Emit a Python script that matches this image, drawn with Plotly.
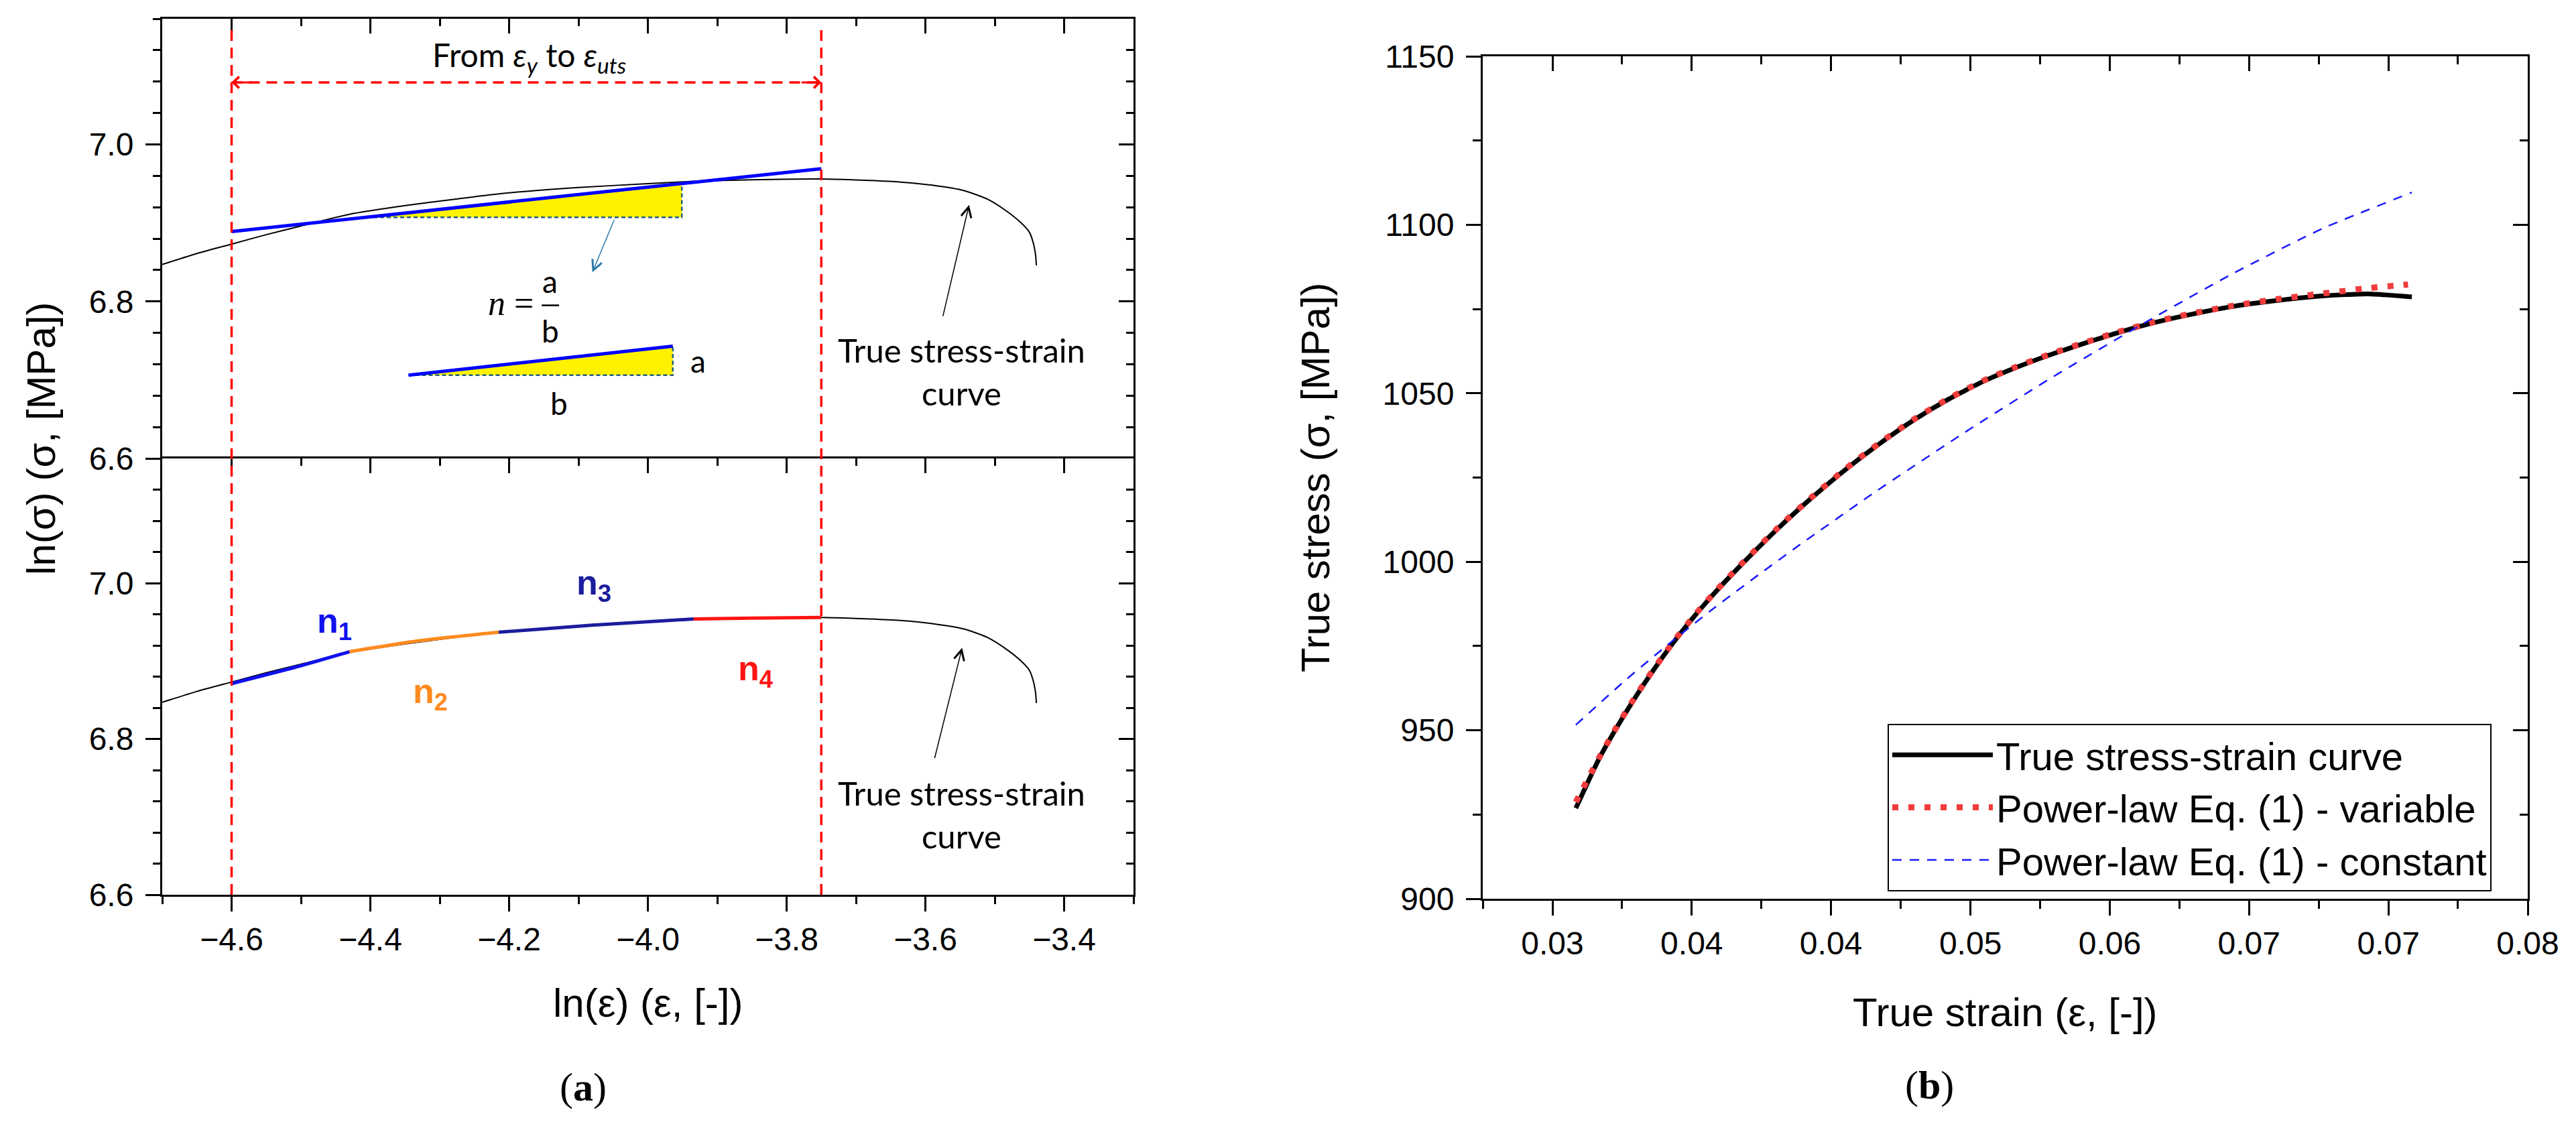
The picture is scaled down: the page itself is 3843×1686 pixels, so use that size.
import plotly.graph_objects as go

# ---------------- panel (a): ln(sigma) vs ln(eps) ----------------
ln_eps = [-4.70, -4.65, -4.60, -4.55, -4.50, -4.43, -4.35, -4.28, -4.215, -4.10, -4.00, -3.934,
          -3.85, -3.75, -3.68, -3.636, -3.59, -3.544, -3.51, -3.483, -3.462, -3.450, -3.444, -3.441, -3.440]
ln_sig = [6.847, 6.861, 6.873, 6.885, 6.896, 6.911, 6.922, 6.930, 6.937, 6.945, 6.950, 6.953,
          6.955, 6.956, 6.954, 6.952, 6.948, 6.941, 6.930, 6.915, 6.900, 6.888, 6.873, 6.858, 6.846]

# single fitted line (top), from eps_y to eps_uts
fit_x = [-4.60, -3.75]
fit_y = [6.889, 6.969]

# slope triangle on the fitted line + small a/b sketch
tri_x = [-4.415, -3.951, -3.951, -4.415]
tri_y = [6.907, 6.907, 6.950, 6.907]
small_x = [-4.345, -3.964, -3.964, -4.345]
small_y = [6.706, 6.706, 6.743, 6.706]

# four local exponents (bottom)
seg_names = ["n<sub>1</sub>", "n<sub>2</sub>", "n<sub>3</sub>", "n<sub>4</sub>"]
seg_colors = ["#1010ee", "#ff8a1e", "#1c1c9c", "#ff1414"]
seg_x = [[-4.60, -4.50, -4.43], [-4.43, -4.33, -4.215], [-4.215, -4.08, -3.934], [-3.934, -3.85, -3.75]]
seg_y = [[6.871, 6.894, 6.912], [6.912, 6.926, 6.937], [6.937, 6.946, 6.954], [6.954, 6.955, 6.956]]
seg_lab_x = [-4.452, -4.314, -4.078, -3.844]
seg_lab_y = [6.948, 6.858, 6.997, 6.887]

eps_y_ln = -4.60
eps_uts_ln = -3.75

# ---------------- panel (b): true stress vs true strain ----------------
strain = [0.0299, 0.0311, 0.0320, 0.0328, 0.0337, 0.0350, 0.0361, 0.0372, 0.0384, 0.0405, 0.0423, 0.0441,
          0.0459, 0.0477, 0.0495, 0.0513, 0.0531, 0.0549, 0.0567, 0.0585, 0.0603, 0.0621, 0.0645, 0.0669,
          0.0692, 0.0716, 0.0739]
stress = [926.9, 941.3, 950.3, 957.7, 965.5, 975.8, 983.6, 990.7, 997.9, 1009.7, 1018.9, 1027.4,
          1035.1, 1042.1, 1048.2, 1053.4, 1057.7, 1061.5, 1064.9, 1068.1, 1070.9, 1073.2, 1075.8, 1077.6,
          1078.9, 1079.5, 1078.6]

var_strain = [0.0299, 0.0311, 0.0320, 0.0328, 0.0337, 0.0350, 0.0361, 0.0372, 0.0384, 0.0405, 0.0423, 0.0441,
              0.0459, 0.0477, 0.0495, 0.0513, 0.0531, 0.0549, 0.0567, 0.0585, 0.0603, 0.0621, 0.0645, 0.0669,
              0.0692, 0.0716, 0.0737]
var_stress = [928.7, 941.6, 950.5, 957.9, 965.7, 976.0, 983.8, 990.9, 998.1, 1009.9, 1019.1, 1027.6,
              1035.3, 1042.3, 1048.4, 1053.6, 1057.9, 1061.7, 1065.1, 1068.3, 1071.1, 1073.4, 1076.0, 1078.0,
              1079.6, 1081.2, 1082.3]

const_strain = [0.0299, 0.0325, 0.0347, 0.0370, 0.0396, 0.0417, 0.0457, 0.0504, 0.0549, 0.0598, 0.0645, 0.0692, 0.0739]
const_stress = [951.6, 964.8, 975.2, 985.5, 996.5, 1005.1, 1020.9, 1038.5, 1054.5, 1070.8, 1085.6, 1098.9, 1109.6]

strain_ticks = [0.02867, 0.03600, 0.04333, 0.05067, 0.05800, 0.06533, 0.07267, 0.08000]
strain_labels = ["0.03", "0.04", "0.04", "0.05", "0.06", "0.07", "0.07", "0.08"]
strain_minor = [0.02500, 0.03233, 0.03967, 0.04700, 0.05433, 0.06167, 0.06900, 0.07633]

legend_names = ["True stress-strain curve", "Power-law Eq. (1) - variable", "Power-law Eq. (1) - constant"]

W, H = 3843, 1686
OFF = 8  # page body margin pushes the figure by this much

def px(x):
    return (x - OFF) / W

def py(y):
    return 1 - (y - OFF) / H

SANS = "Liberation Sans, Arial, sans-serif"
NOTE = "Lato, Liberation Sans, sans-serif"
TICKF = dict(family=SANS, size=48, color="black")

fig = go.Figure()

# --- top panel (x2, y2)
fig.add_trace(go.Scatter(x=ln_eps, y=ln_sig, xaxis="x2", yaxis="y2", mode="lines",
                         line=dict(color="black", width=2, shape="spline", smoothing=0.6), showlegend=False))
for tx, ty in [(tri_x, tri_y), (small_x, small_y)]:
    fig.add_trace(go.Scatter(x=tx, y=ty, xaxis="x2", yaxis="y2", mode="lines", fill="toself",
                             fillcolor="#fff200", line=dict(width=0), showlegend=False))
    fig.add_trace(go.Scatter(x=tx[:3], y=ty[:3], xaxis="x2", yaxis="y2", mode="lines",
                             line=dict(color="#1f5f80", width=2.5, dash="6px,4px"), showlegend=False))
fig.add_trace(go.Scatter(x=fit_x, y=fit_y, xaxis="x2", yaxis="y2", mode="lines",
                         line=dict(color="#0000ff", width=5), showlegend=False))
fig.add_trace(go.Scatter(x=[small_x[0], small_x[2]], y=[small_y[0], small_y[2]], xaxis="x2", yaxis="y2",
                         mode="lines", line=dict(color="#0000ff", width=5), showlegend=False))

# --- bottom panel (x, y)
fig.add_trace(go.Scatter(x=ln_eps, y=ln_sig, xaxis="x", yaxis="y", mode="lines",
                         line=dict(color="black", width=2, shape="spline", smoothing=0.6), showlegend=False))
for sx, sy, c in zip(seg_x, seg_y, seg_colors):
    fig.add_trace(go.Scatter(x=sx, y=sy, xaxis="x", yaxis="y", mode="lines",
                             line=dict(color=c, width=5, shape="spline", smoothing=0.6), showlegend=False))

# --- panel (b) (x4, y5)
fig.add_trace(go.Scatter(x=strain, y=stress, xaxis="x4", yaxis="y5", mode="lines", name=legend_names[0],
                         line=dict(color="black", width=7, shape="spline", smoothing=0.5)))
fig.add_trace(go.Scatter(x=var_strain, y=var_stress, xaxis="x4", yaxis="y5", mode="lines", name=legend_names[1],
                         line=dict(color="#f03c3c", width=9, dash="9px,15px", shape="spline", smoothing=0.5)))
fig.add_trace(go.Scatter(x=const_strain, y=const_stress, xaxis="x4", yaxis="y5", mode="lines", name=legend_names[2],
                         line=dict(color="#1a1aff", width=2.5, dash="14px,12px", shape="spline", smoothing=0.5)))

# empty traces so the mirror axes get drawn
for xa, ya in [("x3", "y"), ("x", "y3"), ("x2", "y4"), ("x5", "y5"), ("x4", "y6")]:
    fig.add_trace(go.Scatter(x=[None], y=[None], xaxis=xa, yaxis=ya, showlegend=False, hoverinfo="skip"))

# domains (paper)
ax_left = [px(242), px(1691)]
top_dom = [py(684), py(28)]
bot_dom = [py(1335), py(684)]
bx = [px(2212), px(3771)]
by = [py(1341), py(84)]

def xax(**kw):
    d = dict(showline=True, linewidth=3, linecolor="black", showgrid=False, zeroline=False,
             ticklen=22, tickwidth=3, tickcolor="black", tickfont=TICKF, automargin=False)
    d.update(kw)
    return d

lnx = dict(range=[-4.7, -3.3], tick0=-4.6, dtick=0.2, tickformat=".1f")
lnx_minor_out = dict(ticks="outside", ticklen=11, tickwidth=3, tickcolor="black", tick0=-4.6, dtick=0.1)
lnx_minor_in = dict(lnx_minor_out, ticks="inside")
lny = dict(range=[6.6, 7.16], tick0=6.6, dtick=0.2, tickformat=".1f")
lny_minor_out = dict(ticks="outside", ticklen=11, tickwidth=3, tickcolor="black", tick0=6.6, dtick=0.04)
lny_minor_in = dict(lny_minor_out, ticks="inside")

sx_ax = dict(range=[0.025, 0.08], tickmode="array", tickvals=strain_ticks, ticktext=strain_labels)
sx_minor_out = dict(ticks="outside", ticklen=12, tickwidth=3, tickcolor="black", tickmode="array", tickvals=strain_minor)
sx_minor_in = dict(sx_minor_out, ticks="inside")
sy_ax = dict(range=[900, 1150], tick0=900, dtick=50)
sy_minor_out = dict(ticks="outside", ticklen=12, tickwidth=3, tickcolor="black", tick0=900, dtick=25)
sy_minor_in = dict(sy_minor_out, ticks="inside")

fig.update_layout(
    width=W, height=H, autosize=False,
    margin=dict(l=0, r=0, t=0, b=0, autoexpand=False),
    paper_bgcolor="white", plot_bgcolor="white",
    font=dict(family=SANS, color="black"),
    xaxis=xax(domain=ax_left, anchor="y", ticks="outside", minor=lnx_minor_out, **lnx),
    yaxis=xax(domain=bot_dom, anchor="x", ticks="outside", minor=lny_minor_out, ticklabelstandoff=8, **lny),
    xaxis2=xax(domain=ax_left, anchor="y2", side="top", ticks="inside", showticklabels=False, minor=lnx_minor_in, **lnx),
    yaxis2=xax(domain=top_dom, anchor="x2", ticks="outside", minor=lny_minor_out, ticklabelstandoff=8, **lny),
    xaxis3=xax(overlaying="x", anchor="y", side="top", ticks="inside", showticklabels=False, minor=lnx_minor_in, **lnx),
    yaxis3=xax(overlaying="y", anchor="x", side="right", ticks="inside", showticklabels=False, minor=lny_minor_in, **lny),
    yaxis4=xax(overlaying="y2", anchor="x2", side="right", ticks="inside", showticklabels=False, minor=lny_minor_in, **lny),
    xaxis4=xax(domain=bx, anchor="y5", ticks="outside", minor=sx_minor_out, **sx_ax),
    yaxis5=xax(domain=by, anchor="x4", ticks="outside", minor=sy_minor_out, ticklabelstandoff=8, **sy_ax),
    xaxis5=xax(overlaying="x4", anchor="y5", side="top", ticks="inside", showticklabels=False, minor=sx_minor_in, **sx_ax),
    yaxis6=xax(overlaying="y5", anchor="x4", side="right", ticks="inside", showticklabels=False, minor=sy_minor_in, **sy_ax),
    legend=dict(x=px(2816), y=py(1080), xanchor="left", yanchor="top", bgcolor="white",
                bordercolor="black", borderwidth=2, font=dict(family=SANS, size=58, color="black"),
                itemwidth=150, tracegroupgap=0),
)

# red dashed limits eps_y and eps_uts across both panels
for xv in [eps_y_ln, eps_uts_ln]:
    fig.add_shape(type="line", xref="x", yref="paper", x0=xv, x1=xv, y0=bot_dom[0], y1=py(38),
                  line=dict(color="#ff0000", width=3.5, dash="16px,10px"))
fig.add_shape(type="line", xref="x2", yref="y2", x0=eps_y_ln, x1=eps_uts_ln, y0=7.079, y1=7.079,
              line=dict(color="#ff0000", width=3.5, dash="16px,10px"))
# fraction bar of n = a/b
fig.add_shape(type="line", xref="x2", yref="y2", x0=-4.153, x1=-4.128, y0=6.795, y1=6.795,
              line=dict(color="black", width=2.5))

ann = []
for hx, tx in [(eps_y_ln, eps_y_ln + 0.03), (eps_uts_ln, eps_uts_ln - 0.03)]:
    ann.append(dict(x=hx, y=7.079, ax=tx, ay=7.079, xref="x2", yref="y2", axref="x2", ayref="y2",
                    text="", showarrow=True, arrowhead=4, arrowsize=1.1, arrowwidth=3, arrowcolor="#ff0000"))
ann.append(dict(x=-4.171, y=7.111, xref="x2", yref="y2", showarrow=False,
                text="From <i>ε<sub>y</sub></i> to <i>ε<sub>uts</sub></i>",
                font=dict(family=NOTE, size=48, color="black")))
# teal pointer from triangle to n = a/b
ann.append(dict(x=-4.080, y=6.837, ax=-4.048, ay=6.905, xref="x2", yref="y2", axref="x2", ayref="y2",
                text="", showarrow=True, arrowhead=5, arrowsize=2, arrowwidth=1.5, arrowcolor="#2a78a8"))
ann.append(dict(x=-4.163, y=6.798, xref="x2", yref="y2", xanchor="right", showarrow=False,
                text="<i>n</i> =", font=dict(family="Liberation Serif, serif", size=52, color="black")))
ann.append(dict(x=-4.141, y=6.826, xref="x2", yref="y2", showarrow=False, text="a",
                font=dict(family=NOTE, size=46, color="black")))
ann.append(dict(x=-4.141, y=6.763, xref="x2", yref="y2", showarrow=False, text="b",
                font=dict(family=NOTE, size=46, color="black")))
ann.append(dict(x=-3.928, y=6.724, xref="x2", yref="y2", showarrow=False, text="a",
                font=dict(family=NOTE, size=46, color="black")))
ann.append(dict(x=-4.128, y=6.670, xref="x2", yref="y2", showarrow=False, text="b",
                font=dict(family=NOTE, size=46, color="black")))
# curve labels + pointers
for xr, yr, tail, head, ty in [("x2", "y2", (-3.575, 6.780), (-3.537, 6.923), 6.711),
                               ("x", "y", (-3.587, 6.774), (-3.547, 6.917), 6.703)]:
    ann.append(dict(x=head[0], y=head[1], ax=tail[0], ay=tail[1], xref=xr, yref=yr, axref=xr, ayref=yr,
                    text="", showarrow=True, arrowhead=5, arrowsize=2, arrowwidth=1.5, arrowcolor="black"))
    ann.append(dict(x=-3.548, y=ty, xref=xr, yref=yr, showarrow=False,
                    text="True stress-strain<br>curve", font=dict(family=NOTE, size=49, color="black")))
for name, c, lx, ly in zip(seg_names, seg_colors, seg_lab_x, seg_lab_y):
    ann.append(dict(x=lx, y=ly, xref="x", yref="y", showarrow=False, text="<b>" + name + "</b>",
                    font=dict(family=SANS, size=52, color=c)))

# axis titles and panel letters
TITLEF = dict(family=SANS, size=60, color="black")
CEN = dict(xref="paper", yref="paper", showarrow=False, xanchor="center", yanchor="middle")
ann.append(dict(CEN, x=px(966), y=py(1496), text="ln(ε) (ε, [-])", font=TITLEF))
ann.append(dict(CEN, x=px(62), y=py(655), textangle=-90, text="ln(σ) (σ, [MPa])", font=TITLEF))
ann.append(dict(CEN, x=px(2991), y=py(1510), text="True strain (ε, [-])", font=TITLEF))
ann.append(dict(CEN, x=px(1962), y=py(712), textangle=-90, text="True stress (σ, [MPa])", font=TITLEF))
ann.append(dict(CEN, x=px(870), y=py(1622), text="(<b>a</b>)",
                font=dict(family="Liberation Serif, serif", size=60, color="black")))
ann.append(dict(CEN, x=px(2878), y=py(1619), text="(<b>b</b>)",
                font=dict(family="Liberation Serif, serif", size=60, color="black")))
fig.update_layout(annotations=ann)

fig.write_html("out.html")
